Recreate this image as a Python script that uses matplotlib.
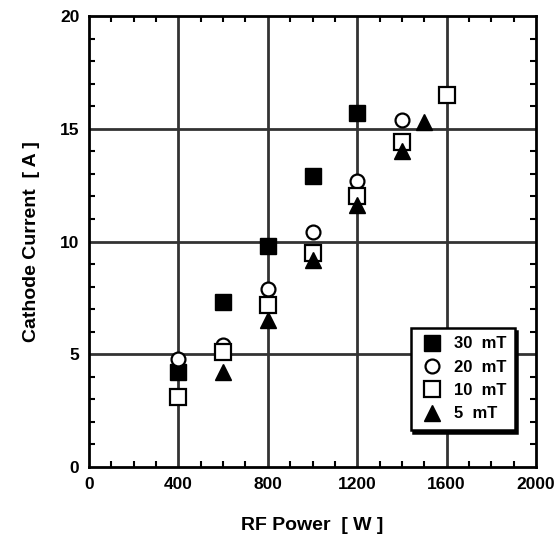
import matplotlib
matplotlib.use("Agg")
import matplotlib.pyplot as plt
from matplotlib.ticker import MultipleLocator

plt.rcParams["font.family"] = ["Liberation Sans", "DejaVu Sans"]
plt.rcParams["font.weight"] = "bold"

power_30 = [400, 600, 800, 1000, 1200]
current_30 = [4.2, 7.3, 9.8, 12.9, 15.7]
power_20 = [400, 600, 800, 1000, 1200, 1400]
current_20 = [4.8, 5.4, 7.9, 10.4, 12.7, 15.4]
power_10 = [400, 600, 800, 1000, 1200, 1400, 1600]
current_10 = [3.1, 5.1, 7.2, 9.5, 12.0, 14.4, 16.5]
power_5 = [600, 800, 1000, 1200, 1400, 1500]
current_5 = [4.2, 6.5, 9.2, 11.6, 14.0, 15.3]

x_ticks = [0, 400, 800, 1200, 1600, 2000]
y_ticks = [0, 5, 10, 15, 20]


def main() -> None:
    fig = plt.figure(figsize=(5.57, 5.42), dpi=100)
    axis = fig.add_axes([0.1598, 0.1384, 0.8025, 0.832])

    for value in x_ticks[1:-1]:
        axis.axvline(value, color="#333333", linewidth=2.0, zorder=1)
    for value in y_ticks[1:-1]:
        axis.axhline(value, color="#333333", linewidth=2.0, zorder=1)

    axis.plot(power_30, current_30, "s", color="black", markersize=11, linestyle="none",
              label="30  mT", zorder=3)
    axis.plot(power_20, current_20, "o", markerfacecolor="white", markeredgecolor="black",
              markeredgewidth=1.6, markersize=10, linestyle="none", label="20  mT", zorder=3)
    axis.plot(power_10, current_10, "s", markerfacecolor="white", markeredgecolor="black",
              markeredgewidth=1.6, markersize=11, linestyle="none", label="10  mT", zorder=3)
    axis.plot(power_5, current_5, "^", color="black", markersize=11, linestyle="none",
              label="5  mT", zorder=4)

    axis.set_xlim(0, 2000)
    axis.set_ylim(0, 20)
    axis.set_xticks(x_ticks)
    axis.set_yticks(y_ticks)
    axis.xaxis.set_minor_locator(MultipleLocator(100))
    axis.yaxis.set_minor_locator(MultipleLocator(1))
    axis.tick_params(which="both", direction="in", top=True, right=True, width=1.5, color="black")
    axis.tick_params(which="major", length=0, labelsize=12.5, pad=7)
    axis.tick_params(which="minor", length=4)
    for label in axis.get_xticklabels() + axis.get_yticklabels():
        label.set_fontweight("bold")
    for spine in axis.spines.values():
        spine.set_linewidth(2.0)
        spine.set_zorder(5)

    axis.set_xlabel("RF Power  [ W ]", fontsize=14, fontweight="bold", labelpad=18)
    axis.set_ylabel("Cathode Current  [ A ]", fontsize=14, fontweight="bold", labelpad=14)

    legend = axis.legend(loc="lower right", bbox_to_anchor=(0.971, 0.064), fancybox=False,
                         shadow={"color": "black", "alpha": 1.0}, framealpha=1.0,
                         edgecolor="black", fontsize=12, handletextpad=0.5,
                         borderpad=0.5, labelspacing=0.5, handlelength=1.6)
    legend.get_frame().set_linewidth(1.8)
    legend.set_zorder(6)
    for text in legend.get_texts():
        text.set_fontweight("bold")

    fig.savefig("out.png", dpi=100)
    plt.close(fig)


if __name__ == "__main__":
    main()
